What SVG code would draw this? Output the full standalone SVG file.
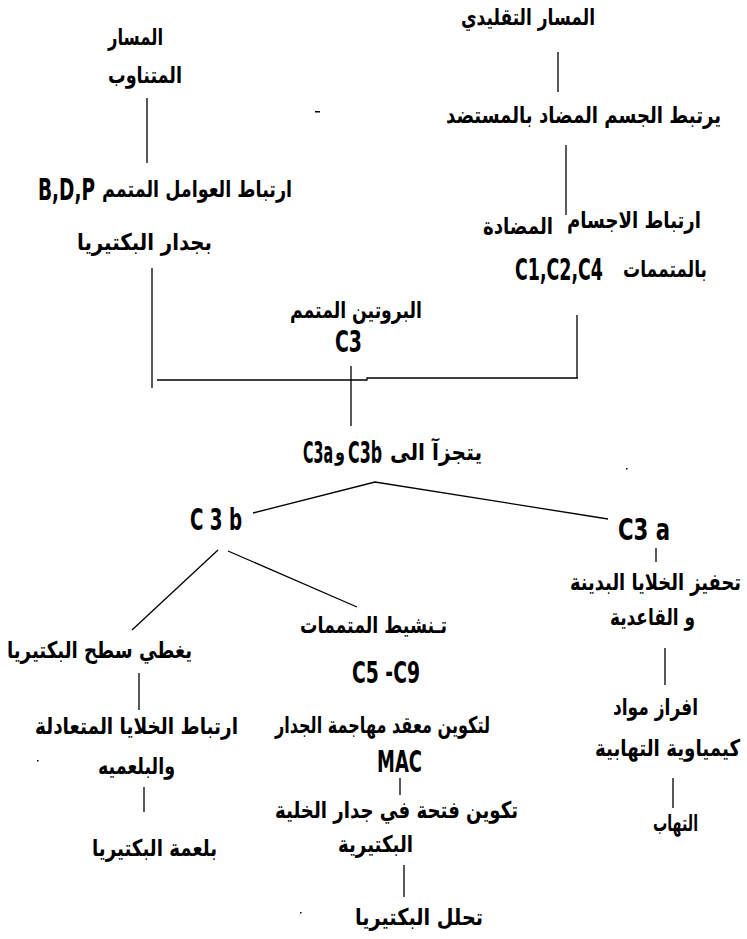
<svg xmlns="http://www.w3.org/2000/svg" width="747" height="939" viewBox="0 0 747 939">
<style>
.ar{font-family:"DejaVu Sans","Noto Sans",sans-serif;font-weight:bold;font-size:23px;fill:#000;direction:rtl;text-anchor:middle}
.lt{font-family:"DejaVu Sans Condensed","DejaVu Sans",sans-serif;font-weight:bold;font-size:30px;fill:#000;text-anchor:middle}
.ln{stroke:#000;stroke-width:1.3;fill:none}
</style>
<rect width="747" height="939" fill="#fff"/>
<g id="connectors" class="ln">
<line x1="147" y1="98" x2="147" y2="163"/>
<line x1="558" y1="52" x2="558" y2="92"/>
<line x1="566" y1="145" x2="566" y2="215"/>
<line x1="152" y1="268" x2="152" y2="388"/>
<polyline points="157,380 367,380 367,378 578,378"/>
<line x1="577" y1="315" x2="577" y2="378"/>
<line x1="351" y1="366" x2="351" y2="426"/>
<polyline points="253,513 375,482 608,519"/>
<line x1="218" y1="550" x2="132" y2="630"/>
<line x1="228" y1="551" x2="357" y2="607"/>
<line x1="139" y1="673" x2="139" y2="710"/>
<line x1="656" y1="548" x2="656" y2="562"/>
<line x1="665" y1="648" x2="665" y2="685"/>
<line x1="144" y1="787" x2="144" y2="812"/>
<line x1="400" y1="778" x2="400" y2="795"/>
<line x1="404" y1="865" x2="404" y2="897"/>
<line x1="673" y1="778" x2="673" y2="808"/>
</g>
<g id="marks" fill="#000">
<rect x="315" y="111" width="5" height="1.5"/>
<rect x="626" y="468" width="1.5" height="1.5"/>
<rect x="37" y="760" width="1.5" height="1.5"/>
<rect x="300" y="912" width="1.5" height="1.5"/>
</g>
<g id="n-alt">
<text class="ar" x="135.5" y="45" textLength="55" lengthAdjust="spacingAndGlyphs">المسار</text>
<text class="ar" x="145" y="83" textLength="74" lengthAdjust="spacingAndGlyphs">المتناوب</text>
</g>
<g id="n-bdp">
<text class="ar" x="197" y="197" textLength="190" lengthAdjust="spacingAndGlyphs">ارتباط العوامل المتمم</text>
<text class="lt" x="66.5" y="200" font-size="28" textLength="57" lengthAdjust="spacingAndGlyphs">B,D,P</text>
<text class="ar" x="144.5" y="250" textLength="135" lengthAdjust="spacingAndGlyphs">بجدار البكتيريا</text>
</g>
<g id="n-classic">
<text class="ar" x="528" y="25" textLength="134" lengthAdjust="spacingAndGlyphs">المسار التقليدي</text>
</g>
<g id="n-antibody">
<text class="ar" x="583.5" y="123" textLength="275" lengthAdjust="spacingAndGlyphs">يرتبط الجسم  المضاد بالمستضد</text>
</g>
<g id="n-c124">
<text class="ar" x="634" y="228" textLength="134" lengthAdjust="spacingAndGlyphs">ارتباط الاجسام</text>
<text class="ar" x="518" y="234" textLength="70" lengthAdjust="spacingAndGlyphs">المضادة</text>
<text class="ar" x="665" y="277" textLength="84" lengthAdjust="spacingAndGlyphs">بالمتممات</text>
<text class="lt" x="559" y="280" textLength="88" lengthAdjust="spacingAndGlyphs">C1,C2,C4</text>
</g>
<g id="n-c3">
<text class="ar" x="356" y="318" textLength="132" lengthAdjust="spacingAndGlyphs">البروتين المتمم</text>
<text class="lt" x="348.5" y="352" font-size="32" textLength="27" lengthAdjust="spacingAndGlyphs">C3</text>
</g>
<g id="n-split">
<text class="ar" x="436" y="460" textLength="92" lengthAdjust="spacingAndGlyphs">يتجزآ الى</text>
<text class="lt" x="365" y="463" font-size="32" textLength="34" lengthAdjust="spacingAndGlyphs">C3b</text>
<text class="ar" x="340" y="460" textLength="10" lengthAdjust="spacingAndGlyphs">و</text>
<text class="lt" x="318" y="463" font-size="32" textLength="30" lengthAdjust="spacingAndGlyphs">C3a</text>
</g>
<g id="n-c3b">
<text class="lt" x="216" y="530" textLength="52" lengthAdjust="spacingAndGlyphs">C 3 b</text>
</g>
<g id="n-c3a">
<text class="lt" x="644" y="540" textLength="52" lengthAdjust="spacingAndGlyphs">C3 a</text>
</g>
<g id="n-mast">
<text class="ar" x="655.5" y="590" textLength="171" lengthAdjust="spacingAndGlyphs">تحفيز الخلايا البدينة</text>
<text class="ar" x="652.5" y="625" textLength="85" lengthAdjust="spacingAndGlyphs">و القاعدية</text>
</g>
<g id="n-secrete">
<text class="ar" x="655.5" y="715" textLength="85" lengthAdjust="spacingAndGlyphs">افراز مواد</text>
<text class="ar" x="667.5" y="756" textLength="145" lengthAdjust="spacingAndGlyphs">كيمياوية التهابية</text>
</g>
<g id="n-inflam">
<text class="ar" x="675.5" y="831" textLength="45" lengthAdjust="spacingAndGlyphs">التهاب</text>
</g>
<g id="n-coat">
<text class="ar" x="99.5" y="658" textLength="185" lengthAdjust="spacingAndGlyphs">يغطي سطح البكتيريا</text>
</g>
<g id="n-phago-bind">
<text class="ar" x="136.5" y="734" textLength="203" lengthAdjust="spacingAndGlyphs">ارتباط الخلايا المتعادلة</text>
<text class="ar" x="136.5" y="774" textLength="77" lengthAdjust="spacingAndGlyphs">والبلعميه</text>
</g>
<g id="n-phago">
<text class="ar" x="154.5" y="856" textLength="125" lengthAdjust="spacingAndGlyphs">بلعمة البكتيريا</text>
</g>
<g id="n-activate">
<text class="ar" x="373.5" y="633" textLength="147" lengthAdjust="spacingAndGlyphs">تـنشيط المتممات</text>
<text class="lt" x="386" y="683" font-size="32" textLength="68" lengthAdjust="spacingAndGlyphs">C5 -C9</text>
</g>
<g id="n-mac">
<text class="ar" x="382.5" y="733" textLength="215" lengthAdjust="spacingAndGlyphs">لتكوين معقد مهاجمة الجدار</text>
<text class="lt" x="399.5" y="772" textLength="45" lengthAdjust="spacingAndGlyphs">MAC</text>
</g>
<g id="n-pore">
<text class="ar" x="396.5" y="818" textLength="243" lengthAdjust="spacingAndGlyphs">تكوين فتحة في جدار الخلية</text>
<text class="ar" x="375.5" y="852" textLength="75" lengthAdjust="spacingAndGlyphs">البكتيرية</text>
</g>
<g id="n-lysis">
<text class="ar" x="419" y="925" textLength="128" lengthAdjust="spacingAndGlyphs">تحلل البكتيريا</text>
</g>
</svg>
